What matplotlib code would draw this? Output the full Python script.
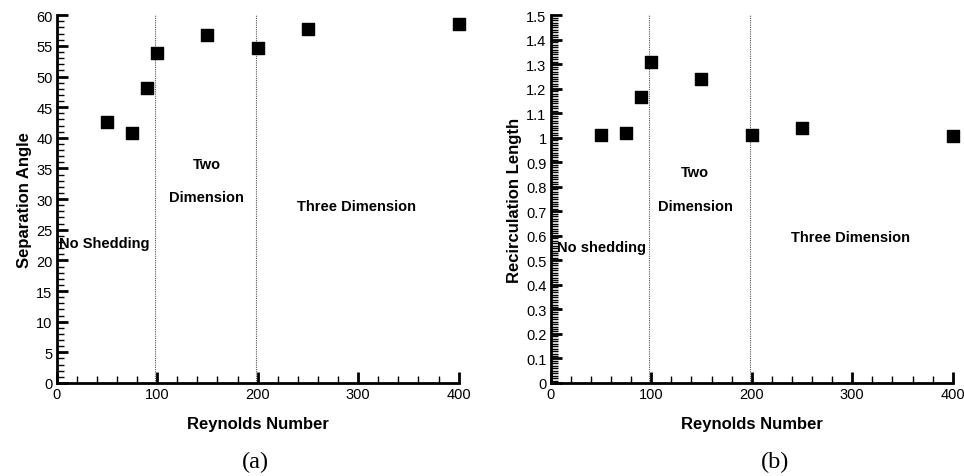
import matplotlib
matplotlib.use("Agg")
import matplotlib.pyplot as plt
from matplotlib.ticker import MultipleLocator, FormatStrFormatter, FuncFormatter

plt.rcParams['font.family'] = ['Liberation Sans', 'DejaVu Sans']

# Reynolds numbers
re_vals = [50, 75, 90, 100, 150, 200, 250, 400]
# (a) separation angle
sep_angle = [42.6, 40.8, 48.1, 53.9, 56.7, 54.7, 57.7, 58.5]
# (b) recirculation length
recirc_len = [1.012, 1.020, 1.167, 1.310, 1.238, 1.010, 1.041, 1.008]

regime_lines = [98, 198]


def style_axes(ax, ymax, ymajor, yminor):
    ax.set_xlim(0, 400)
    ax.set_ylim(0, ymax)
    ax.spines['top'].set_visible(False)
    ax.spines['right'].set_visible(False)
    ax.spines['left'].set_linewidth(2)
    ax.spines['bottom'].set_linewidth(2)
    ax.xaxis.set_major_locator(MultipleLocator(100))
    ax.xaxis.set_minor_locator(MultipleLocator(20))
    ax.yaxis.set_major_locator(MultipleLocator(ymajor))
    ax.yaxis.set_minor_locator(MultipleLocator(yminor))
    ax.tick_params(which='major', direction='in', length=8, width=2, labelsize=10.5, pad=3)
    ax.tick_params(which='minor', direction='in', length=5, width=1)
    ax.tick_params(top=False, right=False, which='both')
    for x in regime_lines:
        ax.axvline(x, color='#555555', linestyle=(0, (1, 1)), linewidth=0.8, zorder=0)
    ax.set_xlabel('Reynolds Number', fontsize=12, fontweight='bold', labelpad=11)


fig = plt.figure(figsize=(9.64, 4.77), dpi=100)
ax1 = fig.add_axes([0.0588, 0.195, 0.417, 0.771])
ax2 = fig.add_axes([0.5713, 0.195, 0.417, 0.771])

# (a)
ax1.scatter(re_vals, sep_angle, marker='s', s=85, color='black', zorder=3, clip_on=False)
style_axes(ax1, 60, 5, 1)
ax1.yaxis.set_major_formatter(FormatStrFormatter('%d'))
ax1.set_ylabel('Separation Angle', fontsize=12, fontweight='bold', labelpad=3)
ax1.text(150, 35.7, 'Two', ha='center', va='center', fontsize=10.5, fontweight='bold')
ax1.text(149, 30.4, 'Dimension', ha='center', va='center', fontsize=10.5, fontweight='bold')
ax1.text(298, 28.9, 'Three Dimension', ha='center', va='center', fontsize=10.5, fontweight='bold')
ax1.text(2, 22.8, 'No Shedding', ha='left', va='center', fontsize=10.5, fontweight='bold')

# (b)
ax2.scatter(re_vals, recirc_len, marker='s', s=85, color='black', zorder=3, clip_on=False)
style_axes(ax2, 1.5, 0.1, 0.01)
ax2.yaxis.set_major_formatter(FuncFormatter(lambda v, p: ('%.1f' % v).rstrip('0').rstrip('.') if v != 0 else '0'))
ax2.set_ylabel('Recirculation Length', fontsize=12, fontweight='bold', labelpad=3)
ax2.text(143, 0.861, 'Two', ha='center', va='center', fontsize=10.5, fontweight='bold')
ax2.text(144, 0.72, 'Dimension', ha='center', va='center', fontsize=10.5, fontweight='bold')
ax2.text(298, 0.595, 'Three Dimension', ha='center', va='center', fontsize=10.5, fontweight='bold')
ax2.text(6, 0.554, 'No shedding', ha='left', va='center', fontsize=10.5, fontweight='bold')

fig.text(0.2645, 0.031, '(a)', ha='center', va='center', fontsize=17.5, family='Liberation Serif')
fig.text(0.8045, 0.031, '(b)', ha='center', va='center', fontsize=17.5, family='Liberation Serif')

fig.savefig('out.png', dpi=100)
